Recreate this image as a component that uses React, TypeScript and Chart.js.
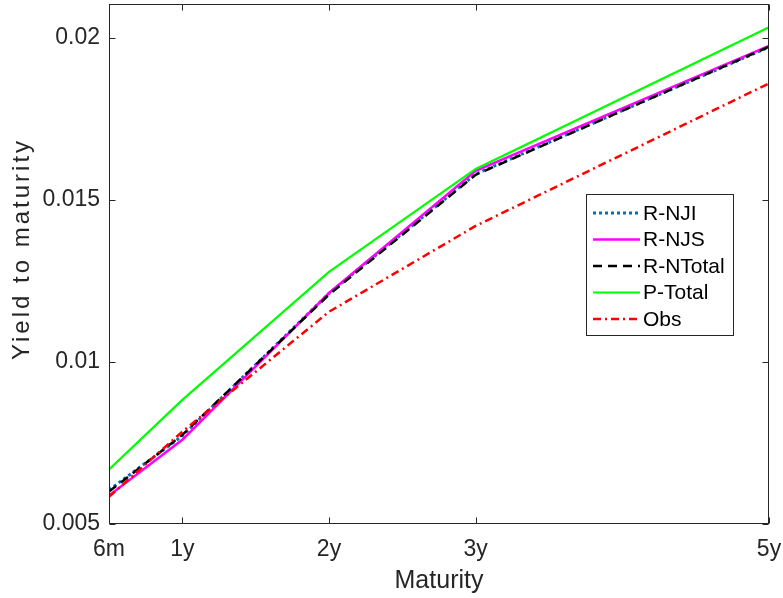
import React, { useEffect, useRef } from "react";
import { Chart, registerables } from "chart.js";

Chart.register(...registerables);

const maturities = [0.5, 1, 2, 3, 5];
const maturityLabels = ["6m", "1y", "2y", "3y", "5y"];
const yTicks = [0.005, 0.01, 0.015, 0.02];
const yTickLabels = ["0.005", "0.01", "0.015", "0.02"];

const rNJI = [0.00605, 0.00772, 0.01212, 0.0158, 0.01972];
const rNJS = [0.00588, 0.0076, 0.01213, 0.0159, 0.01976];
const rNTotal = [0.006, 0.00775, 0.01208, 0.01578, 0.01973];
const pTotal = [0.00668, 0.00883, 0.01278, 0.01596, 0.02033];
const obs = [0.00584, 0.00785, 0.01155, 0.0142, 0.0186];

const seriesNames = ["R-NJI", "R-NJS", "R-NTotal", "P-Total", "Obs"];
const seriesValues = [rNJI, rNJS, rNTotal, pTotal, obs];
const seriesColors = ["#0072BD", "#FF00FF", "#000000", "#00FF00", "#FF0000"];
const seriesWidths = [3, 2.5, 2.5, 2.2, 2.5];
const seriesDash: number[][] = [[3, 3], [], [9, 6], [], [8, 4, 2, 4]];

const FONT = "'Liberation Sans', Arial, Helvetica, sans-serif";
const AXIS_COLOR = "#262626";

const frameAndLegend = {
  id: "frameAndLegend",
  afterDatasetsDraw(chart: any) {
    const ctx = chart.ctx;
    const { left, right, top, bottom } = chart.chartArea;
    const xs = chart.scales.x;
    const ys = chart.scales.y;
    ctx.save();
    ctx.strokeStyle = AXIS_COLOR;
    ctx.lineWidth = 1;
    ctx.setLineDash([]);
    const L = Math.round(left) + 0.5;
    const R = Math.round(right) - 0.5;
    const T = Math.round(top) + 0.5;
    const B = Math.round(bottom) - 0.5;
    ctx.strokeRect(L, T, R - L, B - T);
    const tl = 6;
    ctx.beginPath();
    for (const v of maturities) {
      const px = Math.round(xs.getPixelForValue(v)) + 0.5;
      ctx.moveTo(px, B);
      ctx.lineTo(px, B - tl);
      ctx.moveTo(px, T);
      ctx.lineTo(px, T + tl);
    }
    for (const v of yTicks) {
      const py = Math.round(ys.getPixelForValue(v)) + 0.5;
      ctx.moveTo(L, py);
      ctx.lineTo(L + tl, py);
      ctx.moveTo(R, py);
      ctx.lineTo(R - tl, py);
    }
    ctx.stroke();

    // legend
    const lx = 586.5, ly = 194.5, lw = 147, lh = 141;
    ctx.fillStyle = "#ffffff";
    ctx.fillRect(lx, ly, lw, lh);
    ctx.strokeStyle = AXIS_COLOR;
    ctx.lineWidth = 1;
    ctx.strokeRect(lx, ly, lw, lh);
    ctx.font = `21px ${FONT}`;
    ctx.textBaseline = "middle";
    ctx.textAlign = "left";
    for (let i = 0; i < seriesNames.length; i++) {
      const cy = 213 + i * 26.5;
      ctx.beginPath();
      ctx.strokeStyle = seriesColors[i];
      ctx.lineWidth = seriesWidths[i];
      ctx.setLineDash(seriesDash[i]);
      ctx.moveTo(593, cy);
      ctx.lineTo(640, cy);
      ctx.stroke();
      ctx.setLineDash([]);
      ctx.fillStyle = "#000000";
      ctx.fillText(seriesNames[i], 643, cy + 1);
    }
    ctx.restore();
  },
};

export default function App() {
  const canvasRef = useRef<HTMLCanvasElement | null>(null);

  useEffect(() => {
    const canvas = canvasRef.current;
    if (!canvas) return;
    const datasets = seriesNames.map((name, i) => ({
      label: name,
      data: maturities.map((m, j) => ({ x: m, y: seriesValues[i][j] })),
      borderColor: seriesColors[i],
      backgroundColor: seriesColors[i],
      borderWidth: seriesWidths[i],
      borderDash: seriesDash[i],
      pointRadius: 0,
      tension: 0,
      fill: false,
      order: seriesNames.length - i,
    }));
    const chart = new Chart(canvas, {
      type: "line",
      data: { datasets },
      options: {
        animation: false,
        responsive: false,
        devicePixelRatio: 1,
        layout: { padding: { top: 4, right: 14, left: 0, bottom: 0 } },
        plugins: { legend: { display: false }, tooltip: { enabled: false } },
        scales: {
          x: {
            type: "linear",
            min: 0.5,
            max: 5,
            grid: { display: false, drawTicks: false },
            border: { display: false },
            afterBuildTicks: (axis: any) => {
              axis.ticks = maturities.map((v) => ({ value: v }));
            },
            afterFit: (scale: any) => {
              scale.height = 74;
              scale.paddingLeft = 0;
              scale.paddingRight = 0;
            },
            ticks: {
              autoSkip: false,
              maxRotation: 0,
              padding: 12,
              color: AXIS_COLOR,
              font: { family: FONT, size: 23 },
              callback: (v: any) => {
                const idx = maturities.indexOf(Number(v));
                return idx >= 0 ? maturityLabels[idx] : "";
              },
            },
            title: {
              display: true,
              text: "Maturity",
              color: AXIS_COLOR,
              font: { family: FONT, size: 25 },
              padding: { top: 0, bottom: 2 },
            },
          },
          y: {
            type: "linear",
            min: 0.005,
            max: 0.02105,
            grid: { display: false, drawTicks: false },
            border: { display: false },
            afterBuildTicks: (axis: any) => {
              axis.ticks = yTicks.map((v) => ({ value: v }));
            },
            afterFit: (scale: any) => {
              scale.width = 109;
              scale.paddingTop = 0;
              scale.paddingBottom = 0;
              if (!scale._spacedTitle) {
                const orig = scale.drawTitle.bind(scale);
                scale.drawTitle = (...args: any[]) => {
                  const c = scale.ctx;
                  c.save();
                  c.translate(0, -15);
                  c.letterSpacing = "3px";
                  orig(...args);
                  c.restore();
                };
                scale._spacedTitle = true;
              }
            },
            ticks: {
              autoSkip: false,
              padding: 9,
              color: AXIS_COLOR,
              font: { family: FONT, size: 23 },
              callback: (v: any) => {
                const idx = yTicks.findIndex((t) => Math.abs(t - Number(v)) < 1e-9);
                return idx >= 0 ? yTickLabels[idx] : "";
              },
            },
            title: {
              display: true,
              text: "Yield to maturity",
              color: AXIS_COLOR,
              font: { family: FONT, size: 24 },
              padding: { top: 8, bottom: 0 },
            },
          },
        },
      },
      plugins: [frameAndLegend],
    } as any);
    return () => chart.destroy();
  }, []);

  return (
    <div style={{ position: "absolute", left: 0, top: 0, width: 783, height: 598, background: "#ffffff" }}>
      <canvas ref={canvasRef} width={783} height={598} style={{ display: "block" }} />
    </div>
  );
}
